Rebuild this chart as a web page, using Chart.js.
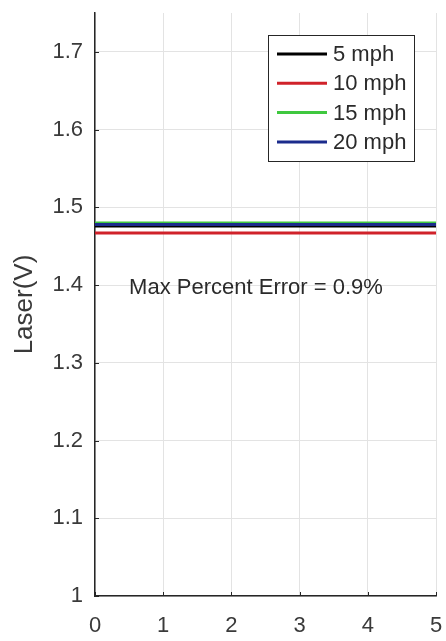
<!DOCTYPE html>
<html>
<head>
<meta charset="utf-8">
<title>Laser voltage vs wind speed</title>
<script src="https://cdn.jsdelivr.net/npm/chart.js@4/dist/chart.umd.min.js"></script>
<style>
  html, body { margin: 0; padding: 0; background: #fff; }
  canvas { display: block; }
</style>
</head>
<body>
<canvas id="laser" width="446" height="641"></canvas>
<script>
const xValues = [0, 1, 2, 3, 4, 5];
const mph5 = [1.476, 1.476, 1.476, 1.476, 1.476, 1.476];
const mph10 = [1.467, 1.467, 1.467, 1.467, 1.467, 1.467];
const mph15 = [1.480, 1.480, 1.480, 1.480, 1.480, 1.480];
const mph20 = [1.478, 1.478, 1.478, 1.478, 1.478, 1.478];
const seriesLabels = ["5 mph", "10 mph", "15 mph", "20 mph"];
const seriesColors = ["#000000", "#d0222a", "#3fc83f", "#1b2b8c"];
const yTicks = [1, 1.1, 1.2, 1.3, 1.4, 1.5, 1.6, 1.7];
const errorNote = "Max Percent Error = 0.9%";

const axisColor = "#262626";
const gridColor = "#e3e3e3";
const font = "Liberation Sans, Arial, sans-serif";

function toPoints(ys) {
  return ys.map((y, i) => ({ x: xValues[i], y: y }));
}

// legend box in the upper right, plus the note and inward tick marks
const plotExtras = {
  id: "plotExtras",
  afterDraw(chart) {
    const ctx = chart.ctx;
    const area = chart.chartArea;
    const xs = chart.scales.x;
    const ys = chart.scales.y;

    ctx.save();
    ctx.strokeStyle = axisColor;
    ctx.lineWidth = 1;
    ctx.beginPath();
    xValues.forEach((v) => {
      const px = Math.round(xs.getPixelForValue(v)) + 0.5;
      ctx.moveTo(px, area.bottom);
      ctx.lineTo(px, area.bottom - 4);
    });
    yTicks.forEach((v) => {
      const py = Math.round(ys.getPixelForValue(v)) + 0.5;
      ctx.moveTo(area.left, py);
      ctx.lineTo(area.left + 4, py);
    });
    ctx.stroke();

    // note, sitting just under the 1.4 gridline
    ctx.fillStyle = "#2a2a2a";
    ctx.font = "22px " + font;
    ctx.textAlign = "left";
    ctx.textBaseline = "middle";
    ctx.fillText(errorNote, xs.getPixelForValue(0.5), ys.getPixelForValue(1.4) + 3);

    // legend
    const boxRight = area.right - 22;
    const boxLeft = boxRight - 146;
    const boxTop = area.top + 22;
    const rowGap = 29.3;
    const boxHeight = 126;
    ctx.fillStyle = "#fff";
    ctx.fillRect(boxLeft, boxTop, boxRight - boxLeft, boxHeight);
    ctx.strokeStyle = axisColor;
    ctx.lineWidth = 1;
    ctx.strokeRect(boxLeft + 0.5, boxTop + 0.5, boxRight - boxLeft, boxHeight);
    chart.data.datasets.forEach((ds, i) => {
      const cy = boxTop + 19 + i * rowGap;
      ctx.strokeStyle = ds.borderColor;
      ctx.lineWidth = 3;
      ctx.beginPath();
      ctx.moveTo(boxLeft + 9, cy);
      ctx.lineTo(boxLeft + 59, cy);
      ctx.stroke();
      ctx.fillStyle = "#2a2a2a";
      ctx.fillText(ds.label, boxLeft + 65, cy + 1);
    });
    ctx.restore();
  },
};

const laserChart = new Chart(document.getElementById("laser"), {
  type: "line",
  data: {
    // later series are drawn over earlier ones
    datasets: [mph5, mph10, mph15, mph20].map((ys, i) => ({
      label: seriesLabels[i],
      data: toPoints(ys),
      borderColor: seriesColors[i],
      backgroundColor: seriesColors[i],
      borderWidth: 3,
      pointRadius: 0,
      fill: false,
      order: seriesLabels.length - i,
    })),
  },
  options: {
    responsive: false,
    animation: false,
    layout: { padding: { top: 13, right: 10, left: 0, bottom: 0 } },
    plugins: {
      legend: { display: false },
      tooltip: { enabled: false },
    },
    scales: {
      x: {
        type: "linear",
        min: 0,
        max: 5,
        ticks: {
          stepSize: 1,
          color: "#3a3a3a",
          font: { family: font, size: 22 },
          padding: 17,
        },
        grid: { color: gridColor, drawTicks: false },
        border: { color: axisColor, width: 1.5 },
        afterFit: (s) => {
          s.height = 45;
          s.paddingLeft = 0;
          s.paddingRight = 0;
        },
      },
      y: {
        type: "linear",
        min: 1,
        max: 1.75,
        afterBuildTicks: (s) => {
          s.ticks = yTicks.map((v) => ({ value: v }));
        },
        ticks: {
          color: "#3a3a3a",
          font: { family: font, size: 22 },
          padding: 12,
          callback: (v) => (Number.isInteger(v) ? String(v) : v.toFixed(1)),
        },
        grid: { color: gridColor, drawTicks: false },
        border: { color: axisColor, width: 1.5 },
        title: {
          display: true,
          text: "Laser(V)",
          color: "#3a3a3a",
          font: { family: font, size: 26 },
          padding: { top: 9, bottom: 0 },
        },
        afterFit: (s) => {
          s.width = 95;
          s.paddingTop = 0;
          s.paddingBottom = 0;
        },
      },
    },
  },
  plugins: [plotExtras],
});
</script>
</body>
</html>
